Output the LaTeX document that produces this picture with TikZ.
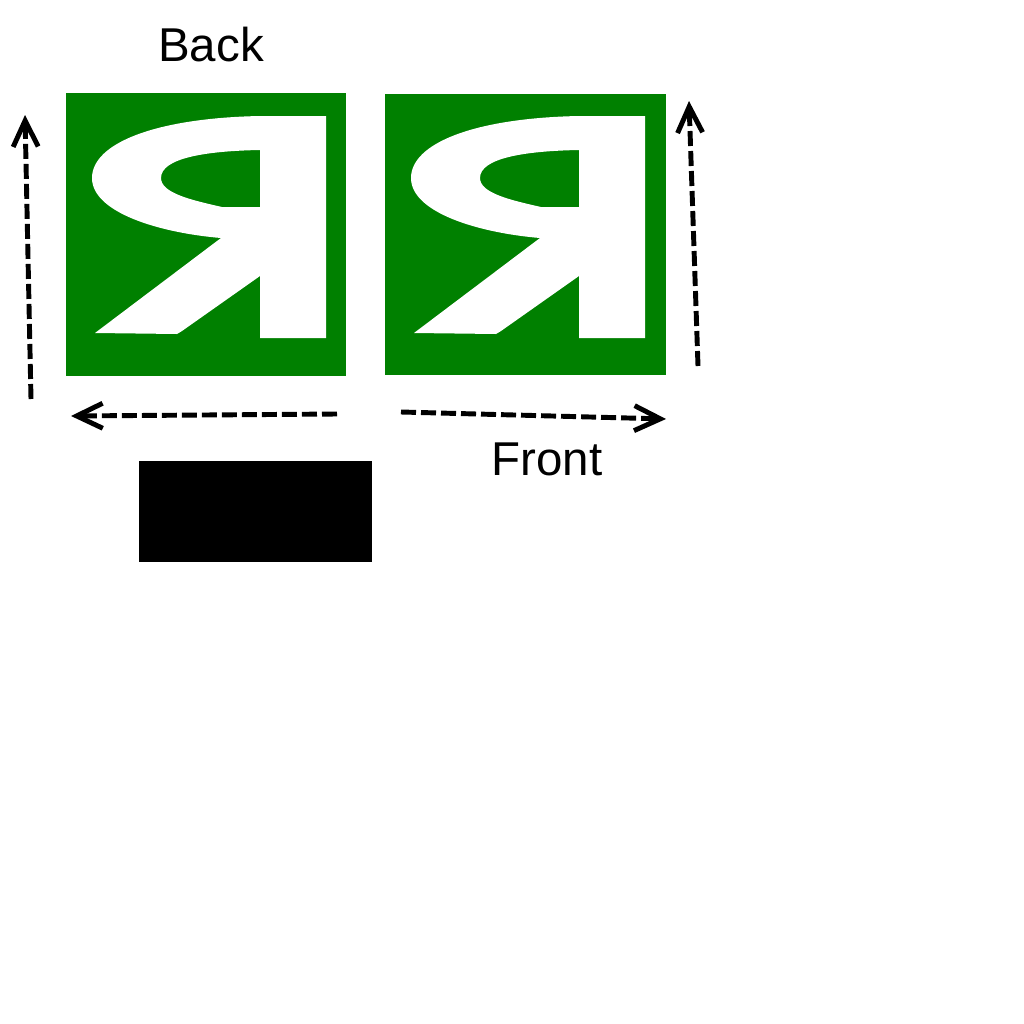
\documentclass[tikz,border=0pt]{standalone}
\usepackage{xcolor}
\usepackage{fontspec}
\setmainfont{Liberation Sans}
\usetikzlibrary{arrows.meta}
\definecolor{panelgreen}{HTML}{008000}
\tikzset{
  mirrorletter/.pic={
    \fill[white, even odd rule] (260,23) -- (260,245) -- (194,245) -- (194,183) -- (116,238) .. controls (113,240) .. (111,241) -- (29,240) -- (155,145)
      .. controls (95,140) and (26,120) .. (26,85) .. controls (26,50) and (90,25) .. (194,23) -- cycle
      (194,57) .. controls (140,58) and (95,65) .. (95,85) .. controls (95,100) and (125,107) .. (156,114) -- (194,114) -- cycle;
  }
}

\begin{document}
\begin{tikzpicture}[x=0.01cm, y=-0.01cm]
\tikzstyle{panel} = [rectangle, fill=panelgreen, inner sep=0pt, anchor=north west]
\tikzstyle{caption} = [font=\fontsize{13.5}{16}\selectfont, inner sep=0pt]
\tikzstyle{arrow} = [line width=1.4pt, dash pattern=on 1.5mm off 0.5mm, -{Straight Barb[length=2.6mm, width=2.5mm]}]

\useasboundingbox (0,0) rectangle (1024,1024);

\node (backpanel) [panel, minimum width=2.8cm, minimum height=2.83cm] at (65,92) {};
\node (frontpanel) [panel, minimum width=2.81cm, minimum height=2.81cm] at (384,93) {};
\pic at (66,93) {mirrorletter};
\pic at (385,93) {mirrorletter};

\node (backlabel) [caption] at (211,45) {Back};
\node (frontlabel) [caption] at (547,459) {Front};
\node (blackbox) [rectangle, fill=black, inner sep=0pt, anchor=north west, minimum width=2.33cm, minimum height=1.01cm] at (138,460) {};

\coordinate (backup1) at (31,399);
\coordinate (backup2) at (25,115);
\coordinate (backleft1) at (337,414);
\coordinate (backleft2) at (71,416);
\coordinate (frontup1) at (698,366);
\coordinate (frontup2) at (689,101);
\coordinate (frontright1) at (401,412);
\coordinate (frontright2) at (666,419);

\draw [arrow] (backup1) -- (backup2);
\draw [arrow] (backleft1) -- (backleft2);
\draw [arrow] (frontup1) -- (frontup2);
\draw [arrow] (frontright1) -- (frontright2);

\end{tikzpicture}
\end{document}
